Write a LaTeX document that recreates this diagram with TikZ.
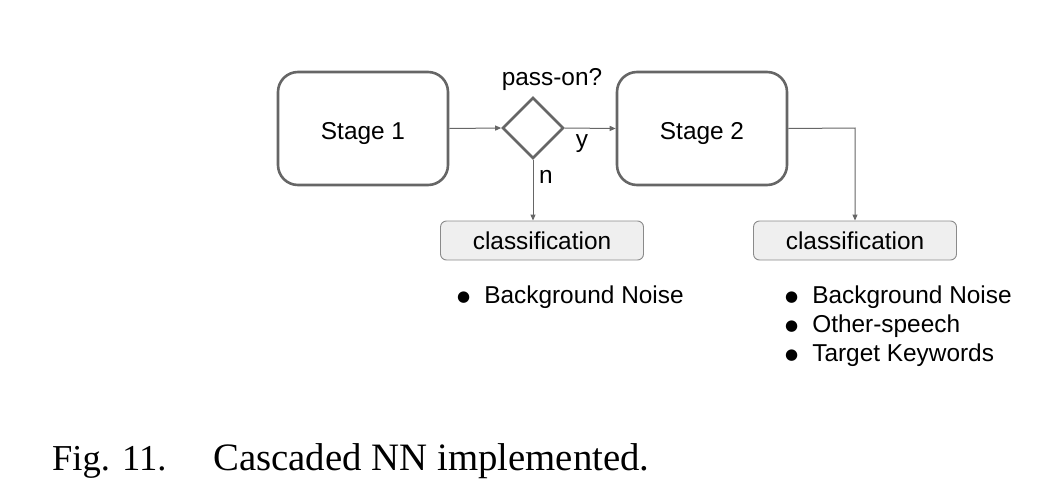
\documentclass[tikz,border=0pt]{standalone}
\usepackage{fontspec}
\setmainfont{Liberation Sans}
\newfontfamily\capfont{Liberation Serif}
\newfontfamily\symfont{DejaVu Sans}
\usetikzlibrary{shapes.geometric,arrows.meta}
\definecolor{edgegray}{HTML}{666666}
\definecolor{boxfill}{HTML}{EFEFEF}
\definecolor{boxline}{HTML}{8A8A8A}
\newcommand{\bul}{\raisebox{1.5pt}{\symfont\fontsize{15}{18}\selectfont ●}\hspace{14pt}}
\begin{document}
\begin{tikzpicture}[x=1pt,y=-1pt,
  stagebox/.style={draw=edgegray,line width=2.6pt,rounded corners=20pt,minimum width=170pt,minimum height=113pt,inner sep=0pt,text height=21pt,text depth=0pt,font=\fontsize{24.4}{28}\selectfont},
  decbox/.style={draw=edgegray,line width=2.6pt,diamond,minimum width=61pt,minimum height=61pt,inner sep=0pt},
  classbox/.style={draw=boxline,line width=0.9pt,fill=boxfill,rounded corners=6pt,minimum width=203pt,minimum height=39pt,inner sep=0pt,text height=17pt,text depth=0pt,font=\fontsize{24.4}{28}\selectfont},
  lbl/.style={font=\fontsize{24.4}{28}\selectfont,inner sep=0pt},
  conn/.style={draw=edgegray,line width=1pt,-{Triangle[length=6pt,width=5pt]}}]
\useasboundingbox (0,0) rectangle (1043,490);
\node[stagebox] (s1) at (363,128.5) {Stage 1};
\node[decbox] (d) at (533,128) {};
\node[stagebox] (s2) at (702,128.5) {Stage 2};
\node[classbox] (c1) at (542,240.5) {classification};
\node[classbox] (c2) at (855,240.5) {classification};
\node[lbl,anchor=base] (q) at (552,85) {pass-on?};
\node[lbl,anchor=base] (ly) at (582,147) {y};
\node[lbl,anchor=base] (ln) at (546,183) {n};
\coordinate (corner) at (855,128);
\draw[conn] (s1.east) -- (d.west);
\draw[conn] (d.east) -- (s2.west);
\draw[conn] (d.south) -- (d.south |- c1.north);
\draw[conn] (s2.east) -- (corner) -- (c2.north);
\node[lbl,anchor=base west] (b1) at (457,303) {\bul Background Noise};
\node[lbl,anchor=base west] (b2) at (785,303) {\bul Background Noise};
\node[lbl,anchor=base west] (b3) at (785,332) {\bul Other-speech};
\node[lbl,anchor=base west] (b4) at (785,361) {\bul Target Keywords};
\node[anchor=base west,inner sep=0pt,font=\capfont\fontsize{36.5}{42}\selectfont] (cap1) at (52,470) {Fig. 11.};
\node[anchor=base west,inner sep=0pt,font=\capfont\fontsize{38.8}{44}\selectfont] (cap2) at (213,470) {Cascaded NN implemented.};
\end{tikzpicture}
\end{document}
